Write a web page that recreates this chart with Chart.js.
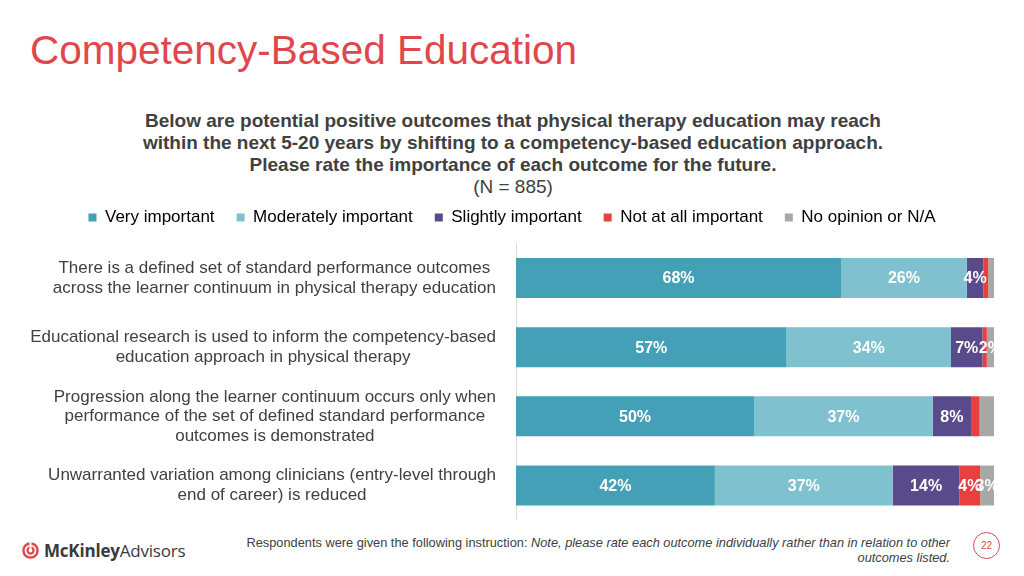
<!DOCTYPE html>
<html>
<head>
<meta charset="utf-8">
<script src="https://cdn.jsdelivr.net/npm/chart.js@4"></script>
<style>
  html, body { margin: 0; padding: 0; background: #fff; }
  body { width: 1024px; height: 576px; position: relative; overflow: hidden; font-family: "Liberation Sans", Arial, sans-serif; color: #404040; }
  #title { position: absolute; left: 30px; top: 27px; font-size: 40.5px; color: #e0474c; white-space: nowrap; }
  #subtitle { position: absolute; left: 0; width: 1026px; top: 110px; text-align: center; font-size: 19px; line-height: 22px; font-weight: bold; color: #404040; }
  #subtitle .n { font-weight: normal; }
  #chartWrap { position: absolute; left: 0; top: 187px; width: 1024px; height: 333px; }
  #footnote { position: absolute; right: 74px; top: 535px; text-align: right; font-size: 12.8px; line-height: 15px; color: #404040; white-space: nowrap; }
  #logo { position: absolute; left: 22px; top: 539px; height: 22px; display: flex; align-items: center; font-family: "Open Sans", "Liberation Sans", sans-serif; font-size: 17px; color: #3a3a3a; letter-spacing: -0.2px; }
  #logo b { font-weight: bold; }
  #page { position: absolute; left: 973px; top: 532px; width: 27px; height: 27px; border: 1.2px solid #e0474c; border-radius: 50%; box-sizing: border-box; color: #e0474c; font-size: 10px; text-align: center; line-height: 25px; }
</style>
</head>
<body>
<div id="title">Competency-Based Education</div>
<div id="subtitle">Below are potential positive outcomes that physical therapy education may reach<br>within the next 5-20 years by shifting to a competency-based education approach.<br>Please rate the importance of each outcome for the future.<br><span class="n">(N = 885)</span></div>
<div id="chartWrap"><canvas id="c" width="1024" height="333"></canvas></div>
<div id="logo">
  <svg width="17" height="17" viewBox="0 0 18 18" style="margin-right:5px">
    <circle cx="9" cy="9" r="7.5" fill="none" stroke="#e0474c" stroke-width="2.6"/>
    <circle cx="9" cy="9" r="3.2" fill="none" stroke="#e0474c" stroke-width="2.4"/>
    <rect x="8" y="0" width="2" height="9" fill="#fff"/>
  </svg>
  <b>McKinley</b><span>Advisors</span>
</div>
<div id="footnote">Respondents were given the following instruction: <i>Note, please rate each outcome individually rather than in relation to other</i><br><i>outcomes listed.</i></div>
<div id="page">22</div>
<script>
const categories = [
  ["There is a defined set of standard performance outcomes", "across the learner continuum in physical therapy education"],
  ["Educational research is used to inform the competency-based", "education approach in physical therapy"],
  ["Progression along the learner continuum occurs only when", "performance of the set of defined standard performance", "outcomes is demonstrated"],
  ["Unwarranted variation among clinicians (entry-level through", "end of career) is reduced"]
];
const seriesNames = ["Very important", "Moderately important", "Slightly important", "Not at all important", "No opinion or N/A"];
const veryImportant = [68, 56.6, 49.8, 41.6];
const moderatelyImportant = [26.3, 34.4, 37.4, 37.2];
const slightlyImportant = [3.5, 6.6, 8.0, 14.0];
const notAtAllImportant = [1.0, 0.9, 1.8, 4.3];
const noOpinion = [1.2, 1.5, 3.0, 2.9];
// which segment labels are printed in the reference
const showVery = [true, true, true, true];
const showModerately = [true, true, true, true];
const showSlightly = [true, true, true, true];
const showNotAtAll = [false, false, false, true];
const showNoOpinion = [false, true, false, true];

const colors = ["#44a0b6", "#80c1cf", "#584a8b", "#e8403f", "#a8a8a8"];
const allSeries = [veryImportant, moderatelyImportant, slightlyImportant, notAtAllImportant, noOpinion];
const allShow = [showVery, showModerately, showSlightly, showNotAtAll, showNoOpinion];

const FONT = '"Liberation Sans", Arial, sans-serif';

const segmentLabels = {
  id: 'segmentLabels',
  afterDatasetsDraw(chart) {
    const ctx = chart.ctx;
    ctx.save();
    ctx.font = 'bold 16px ' + FONT;
    ctx.fillStyle = '#ffffff';
    ctx.textAlign = 'center';
    ctx.textBaseline = 'middle';
    chart.data.datasets.forEach((ds, di) => {
      const meta = chart.getDatasetMeta(di);
      meta.data.forEach((bar, i) => {
        if (!allShow[di][i]) return;
        const props = bar.getProps(['x', 'y', 'base'], true);
        const cx = (props.x + props.base) / 2;
        ctx.fillText(Math.round(ds.data[i]) + '%', cx, props.y + 1);
      });
    });
    ctx.restore();
  }
};

const categoryLabels = {
  id: 'categoryLabels',
  afterDraw(chart) {
    const ctx = chart.ctx;
    const yScale = chart.scales.y;
    const right = chart.chartArea.left - 20;
    ctx.save();
    ctx.font = '17px ' + FONT;
    ctx.fillStyle = '#404040';
    ctx.textAlign = 'center';
    ctx.textBaseline = 'middle';
    const lh = 19.5;
    categories.forEach((lines, i) => {
      const y = yScale.getPixelForValue(i);
      const maxW = Math.max(...lines.map(l => ctx.measureText(l).width));
      const cx = right - maxW / 2;
      const y0 = y - (lines.length - 1) * lh / 2;
      lines.forEach((l, k) => ctx.fillText(l, cx, y0 + k * lh));
    });
    ctx.restore();
  }
};

new Chart(document.getElementById('c'), {
  type: 'bar',
  data: {
    labels: categories.map(c => c.join(' ')),
    datasets: seriesNames.map((name, k) => ({
      label: name,
      data: allSeries[k],
      backgroundColor: colors[k],
      borderWidth: 0,
      categoryPercentage: 0.578,
      barPercentage: 1.0
    }))
  },
  options: {
    indexAxis: 'y',
    responsive: false,
    devicePixelRatio: 1,
    animation: false,
    layout: { padding: { left: 30, right: 30, top: 0, bottom: 0 } },
    scales: {
      x: {
        stacked: true, min: 0, max: 100, position: 'top',
        ticks: { display: false },
        grid: { display: false },
        border: { display: false },
        afterFit(scale) { scale.height = 7.5; }
      },
      y: {
        stacked: true,
        ticks: { display: false },
        grid: { display: false },
        border: { display: true, color: '#dcdcdc', width: 1 },
        afterFit(scale) { scale.width = 486; }
      }
    },
    plugins: {
      tooltip: { enabled: false },
      legend: {
        position: 'top',
        align: 'center',
        labels: {
          boxWidth: 8,
          boxHeight: 8,
          padding: 22,
          color: '#404040',
          font: { family: FONT, size: 17 },
          generateLabels(chart) {
            return chart.data.datasets.map((ds, i) => ({
              text: ds.label,
              fillStyle: ds.backgroundColor,
              strokeStyle: ds.backgroundColor,
              lineWidth: 0,
              hidden: false,
              datasetIndex: i
            }));
          }
        }
      }
    }
  },
  plugins: [segmentLabels, categoryLabels]
});
</script>
</body>
</html>
